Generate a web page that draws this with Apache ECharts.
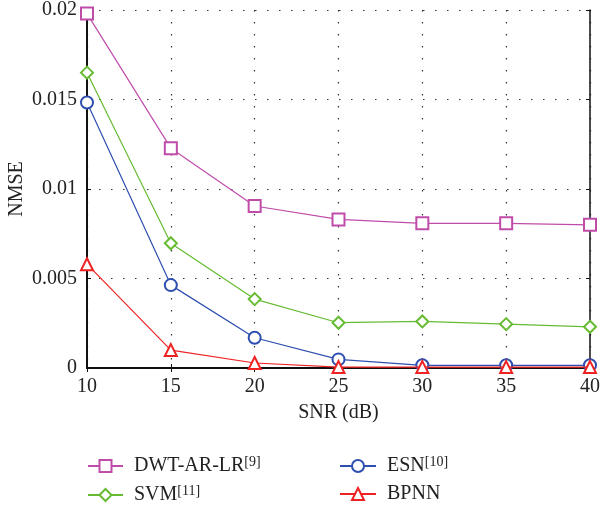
<!DOCTYPE html>
<html><head><meta charset="utf-8">
<script src="https://cdn.jsdelivr.net/npm/echarts@6/dist/echarts.min.js"></script>
<style>html,body{margin:0;padding:0;background:#fff}#c{width:603px;height:511px}</style>
</head><body><div id="c"></div>
<script>
var snr = [10, 15, 20, 25, 30, 35, 40];
var dwt = [0.0198, 0.01228, 0.00905, 0.0083, 0.00808, 0.00808, 0.0080];
var svm = [0.0165, 0.00697, 0.00385, 0.00253, 0.0026, 0.00245, 0.0023];
var esn = [0.01483, 0.00463, 0.00169, 0.00048, 0.00015, 0.00015, 0.00015];
var bpnn = [0.0058, 0.0010, 0.00028, 0.00005, 0.00005, 0.00005, 0.00005];
var names = ['DWT-AR-LR', 'SVM', 'ESN', 'BPNN'];
var refs = {'DWT-AR-LR': '[9]', 'SVM': '[11]', 'ESN': '[10]', 'BPNN': ''};

var FONT = 'Liberation Serif';
var FS = 20;
function pairs(v) { return snr.map(function (x, i) { return [x, v[i]]; }); }
function mk(name, data, color, symbol) {
  return {
    name: name, type: 'line', data: pairs(data), symbol: symbol, symbolSize: 12,
    lineStyle: { color: color, width: 1.2 }, itemStyle: { color: color, borderWidth: 1.2 },
    emphasis: { disabled: true }, z: name === 'BPNN' ? 5 : 3
  };
}
var legendText = {
  fontFamily: FONT, fontSize: FS, color: '#222',
  rich: {
    a: { fontFamily: FONT, fontSize: FS, color: '#222', lineHeight: 22, padding: [0, 0, 0, 6] },
    s: { fontFamily: FONT, fontSize: 14, color: '#222', verticalAlign: 'top', lineHeight: 22 }
  }
};
function fmt(n) { return refs[n] ? '{a|' + n + '}{s|' + refs[n] + '}' : '{a|' + n + '}'; }
var grid = { type: [1.5, 10.5], color: '#333', width: 1.2 };
var chart = echarts.init(document.getElementById('c'));
chart.setOption({
  animation: false,
  backgroundColor: '#fff',
  grid: { left: 87, right: 13, top: 10, bottom: 143, outerBoundsMode: 'none', containLabel: false },
  legend: [
    { data: [names[0], names[1]], orient: 'vertical', left: 87, top: 455, padding: 0, itemGap: 8, itemWidth: 35, itemHeight: 15, textStyle: legendText, formatter: fmt, selectedMode: false },
    { data: [names[2], names[3]], orient: 'vertical', left: 339, top: 455, padding: 0, itemGap: 8, itemWidth: 36, itemHeight: 15, textStyle: legendText, formatter: fmt, selectedMode: false }
  ],
  xAxis: [
    { type: 'value', min: 10, max: 40, interval: 5, name: 'SNR (dB)', nameLocation: 'middle', nameGap: 35, nameMoveOverlap: false,
      nameTextStyle: { fontFamily: FONT, fontSize: FS, color: '#222' },
      axisLine: { lineStyle: { color: '#111', width: 2 } },
      axisTick: { inside: true, length: 4, lineStyle: { color: '#111' } },
      axisLabel: { fontFamily: FONT, fontSize: FS, color: '#222', margin: 9 },
      splitLine: { show: true, lineStyle: grid } },
    { type: 'value', min: 10, max: 40, interval: 5, position: 'top',
      axisLine: { lineStyle: { color: '#111', width: 1.5 } },
      axisTick: { inside: true, length: 4, lineStyle: { color: '#111' } },
      axisLabel: { show: false }, splitLine: { show: false } }
  ],
  yAxis: [
    { type: 'value', min: 0, max: 0.02, interval: 0.005, name: 'NMSE', nameLocation: 'middle', nameGap: 60, nameMoveOverlap: false,
      nameTextStyle: { fontFamily: FONT, fontSize: FS, color: '#222' },
      axisLine: { show: true, lineStyle: { color: '#111', width: 2 } },
      axisTick: { show: true, inside: true, length: 4, lineStyle: { color: '#111' } },
      axisLabel: { fontFamily: FONT, fontSize: FS, color: '#222', margin: 10 },
      splitLine: { show: true, lineStyle: grid } },
    { type: 'value', min: 0, max: 0.02, interval: 0.005, position: 'right',
      axisLine: { show: true, lineStyle: { color: '#111', width: 1.5 } },
      axisTick: { show: true, inside: true, length: 4, lineStyle: { color: '#111' } },
      axisLabel: { show: false }, splitLine: { show: false } }
  ],
  series: [
    mk(names[0], dwt, '#c04caa', 'emptyRect'),
    mk(names[1], svm, '#66bb33', 'emptyDiamond'),
    mk(names[2], esn, '#2f4fb0', 'emptyCircle'),
    mk(names[3], bpnn, '#ee2222', 'emptyTriangle')
  ]
});
</script></body></html>
